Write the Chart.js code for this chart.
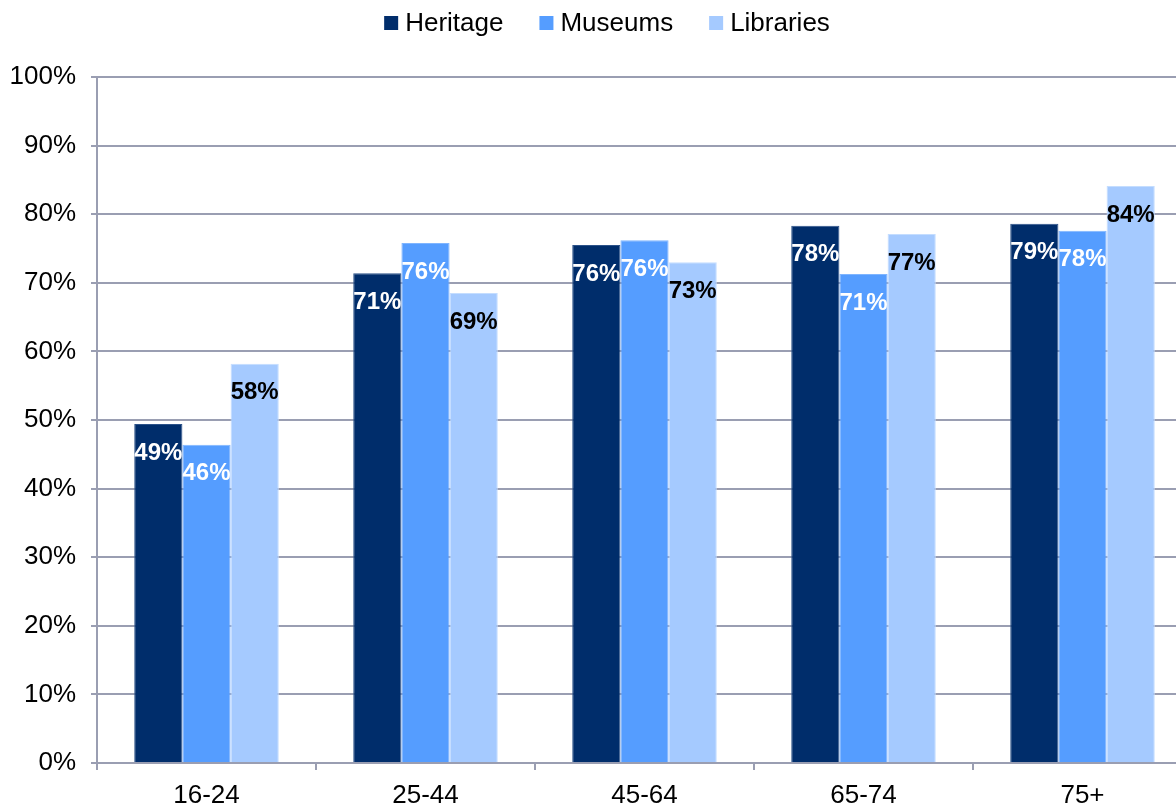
<!DOCTYPE html>
<html>
<head>
<meta charset="utf-8">
<script src="https://cdn.jsdelivr.net/npm/chart.js@4/dist/chart.umd.min.js"></script>
<style>
  html, body { margin: 0; padding: 0; background: #fff; overflow: hidden; }
  #wrap { width: 1192px; height: 807px; }
</style>
</head>
<body>
<div id="wrap"><canvas id="ageChart"></canvas></div>
<script>
const ageGroups = ['16-24', '25-44', '45-64', '65-74', '75+'];
const heritage = [49.4, 71.4, 75.5, 78.3, 78.6];
const museums = [46.4, 75.8, 76.2, 71.3, 77.6];
const libraries = [58.2, 68.5, 73.0, 77.1, 84.1];
const yTicks = [0, 10, 20, 30, 40, 50, 60, 70, 80, 90, 100];

const FONT = 'Arial, "Liberation Sans", sans-serif';
const GRID = '#9a9eb2';

// prints the rounded value just inside the top of every bar
const barLabels = {
    id: 'barLabels',
    afterDatasetsDraw(chart) {
        const ctx = chart.ctx;
        ctx.save();
        ctx.font = 'bold 24px ' + FONT;
        ctx.textAlign = 'center';
        ctx.textBaseline = 'middle';
        chart.data.datasets.forEach((ds, i) => {
            const meta = chart.getDatasetMeta(i);
            ctx.fillStyle = ds.labelColor;
            meta.data.forEach((bar, j) => {
                ctx.fillText(Math.round(ds.data[j]) + '%', bar.x, bar.y + 29);
            });
        });
        ctx.restore();
    }
};

// legend row across the top: small square + series name
const topLegend = {
    id: 'topLegend',
    afterDraw(chart) {
        const ctx = chart.ctx;
        const box = 14, gap = 7, spacing = 36, y = 23;
        ctx.save();
        ctx.font = '26px ' + FONT;
        ctx.textBaseline = 'middle';
        const items = chart.data.datasets.map(ds => ({
            text: ds.label, color: ds.backgroundColor, w: ctx.measureText(ds.label).width
        }));
        const total = items.reduce((s, it) => s + box + gap + it.w, 0) + spacing * (items.length - 1);
        let x = (chart.width + 22) / 2 - total / 2;
        items.forEach(it => {
            ctx.fillStyle = it.color;
            ctx.fillRect(x, y - box / 2, box, box);
            ctx.fillStyle = '#000';
            ctx.fillText(it.text, x + box + gap, y + 1);
            x += box + gap + it.w + spacing;
        });
        ctx.restore();
    }
};

new Chart(document.getElementById('ageChart'), {
    type: 'bar',
    data: {
        labels: ageGroups,
        datasets: [
            { label: 'Heritage', data: heritage, backgroundColor: '#002d6b', borderColor: '#2c5289', labelColor: '#ffffff' },
            { label: 'Museums', data: museums, backgroundColor: '#559dff', borderColor: '#7fb5ff', labelColor: '#ffffff' },
            { label: 'Libraries', data: libraries, backgroundColor: '#a5caff', borderColor: '#c4ddff', labelColor: '#000000' }
        ].map(d => Object.assign(d, { borderWidth: 1, categoryPercentage: 0.66, barPercentage: 1 }))
    },
    options: {
        responsive: true,
        maintainAspectRatio: false,
        animation: false,
        layout: { padding: { top: 77, right: 0, left: 0, bottom: 0 } },
        plugins: {
            legend: { display: false },
            tooltip: { enabled: false }
        },
        scales: {
            x: {
                grid: { drawOnChartArea: false, drawTicks: true, tickLength: 7, color: GRID, lineWidth: 2 },
                border: { color: GRID, width: 2 },
                ticks: { font: { family: FONT, size: 26 }, color: '#000', padding: 10 },
                afterFit(scale) { scale.height = 44; }
            },
            y: {
                min: 0,
                max: 100,
                afterBuildTicks(scale) { scale.ticks = yTicks.map(v => ({ value: v })); },
                grid: { color: GRID, lineWidth: 2, tickLength: 6 },
                border: { color: GRID, width: 2 },
                ticks: {
                    font: { family: FONT, size: 26 },
                    color: '#000',
                    padding: 15,
                    callback: v => v + '%'
                },
                afterFit(scale) { scale.width = 97; }
            }
        }
    },
    plugins: [barLabels, topLegend]
});
</script>
</body>
</html>
